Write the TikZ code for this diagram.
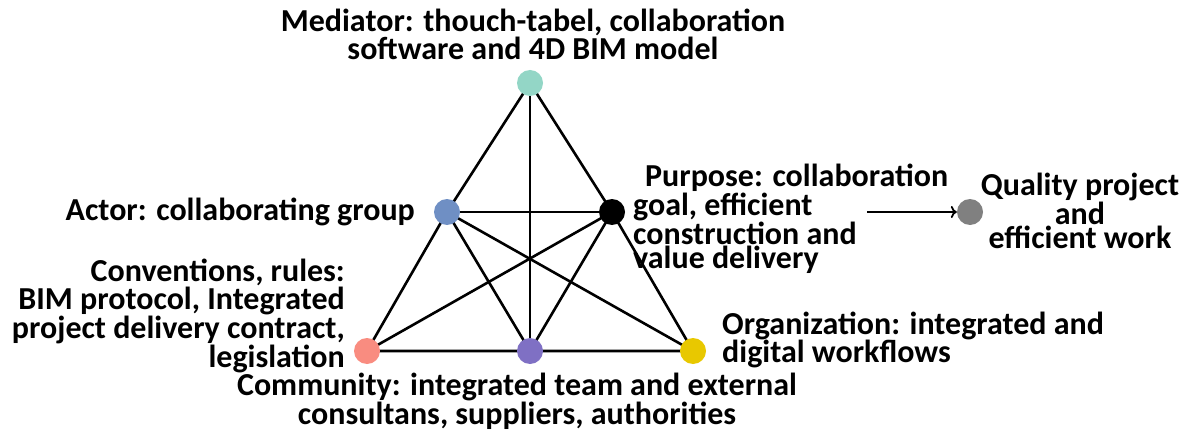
\documentclass[tikz,border=0pt]{standalone}
\usepackage{fontspec}
\setmainfont{Carlito}
\usetikzlibrary{arrows.meta, positioning, backgrounds}

\definecolor{medc}{HTML}{93D6C6}
\definecolor{actc}{HTML}{6F8FC4}
\definecolor{conc}{HTML}{F98C80}
\definecolor{comc}{HTML}{7F70C4}
\definecolor{orgc}{HTML}{E8C800}
\definecolor{qualc}{HTML}{808080}

\begin{document}
\begin{tikzpicture}[
    x=1pt, y=-1pt,
    dot/.style={circle, inner sep=0pt, minimum size=26pt},
    edge/.style={line width=2.6pt},
    lbl/.style={font=\fontsize{32}{24.5}\selectfont\bfseries, inner sep=0pt},
    arr/.style={-{To[length=6pt, width=12pt]}, line width=1.8pt},
]
\useasboundingbox (0,0) rectangle (1197,433);

% Dots
\node[dot, fill=medc] (med) at (530,83) {};
\node[dot, fill=actc] (act) at (447,212) {};
\node[dot, fill=black] (pur) at (612,212) {};
\node[dot, fill=conc] (con) at (367,351) {};
\node[dot, fill=comc] (com) at (530,351) {};
\node[dot, fill=orgc] (org) at (693,351) {};
\node[dot, fill=qualc] (qual) at (970,212) {};

% Edges
\begin{scope}[on background layer]
\draw[edge] (med.center) -- (act.center) -- (con.center) -- (com.center) -- (org.center) -- (pur.center) -- (med.center);
\draw[edge] (med.center) -- (com.center);
\draw[edge] (act.center) -- (pur.center);
\draw[edge] (act.center) -- (com.center);
\draw[edge] (act.center) -- (org.center);
\draw[edge] (pur.center) -- (con.center);
\draw[edge] (pur.center) -- (com.center);
\end{scope}

% Labels
\node[lbl, align=center] (medl) at (533,34) {Mediator: thouch-tabel, collaboration\\software and 4D BIM model};
\node[lbl, anchor=east] (actl) at (415,212) {Actor: collaborating group};
\node[lbl, align=left, anchor=west] (purl) at (633,219) {\hspace*{12pt}Purpose: collaboration\\goal, efficient\\construction and\\value delivery};
\node[lbl, align=right, anchor=east] (conl) at (345,316) {Conventions, rules:\\BIM protocol, Integrated\\project delivery contract,\\legislation};
\node[lbl, align=left, anchor=west] (orgl) at (722,340) {Organization: integrated and\\digital workflows};
\node[lbl, align=center] (coml) at (517,401) {Community: integrated team and external\\consultans, suppliers, authorities};
\node[lbl, align=center] (quall) at (1080,211) {Quality project\\and\\efficient work};

% Arrow
\coordinate (arrs) at (867,212);
\draw[arr] (arrs) -- (qual.west);
\end{tikzpicture}
\end{document}
